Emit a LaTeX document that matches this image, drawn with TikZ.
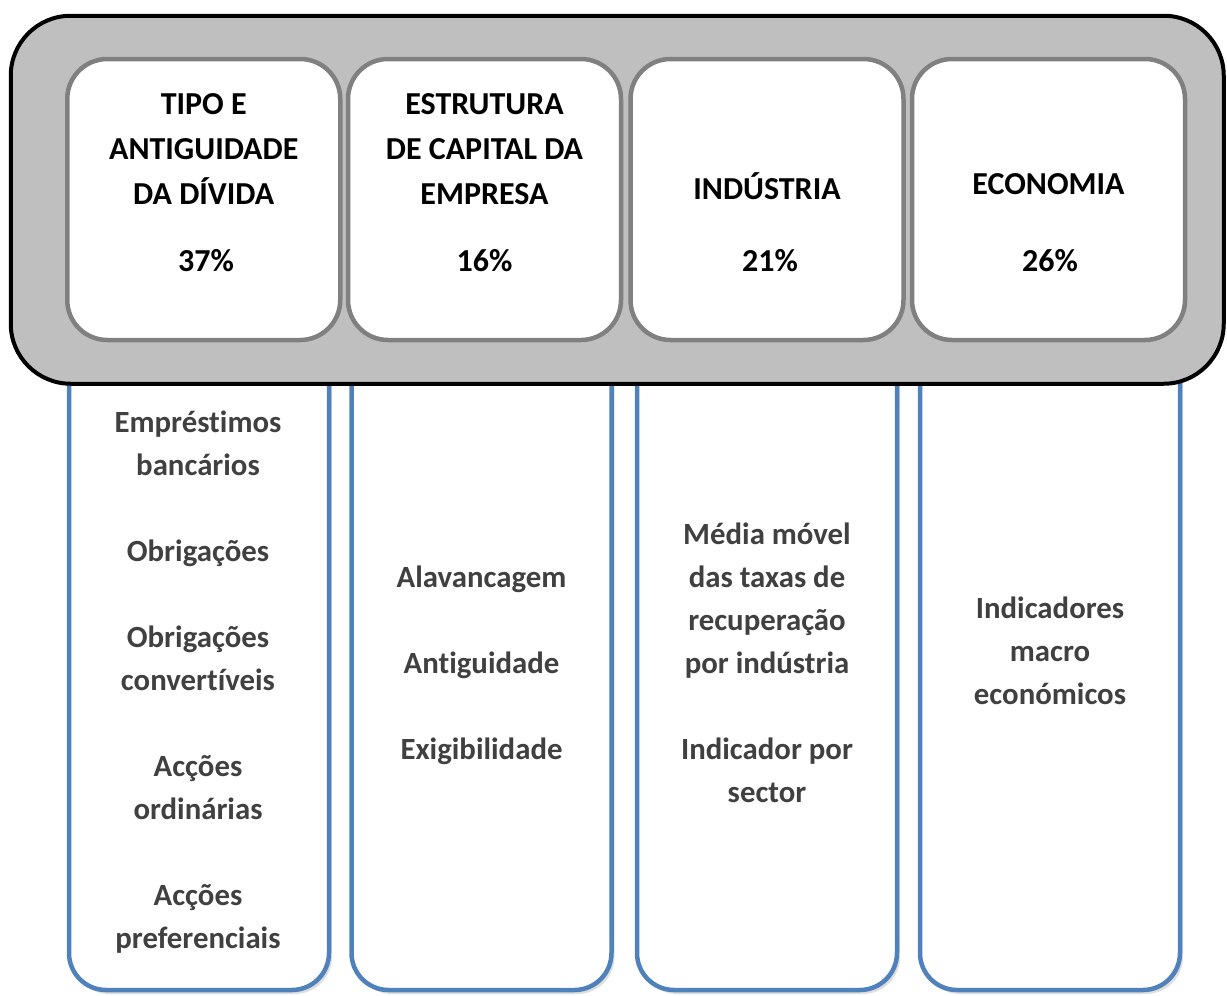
\documentclass[tikz,border=0pt]{standalone}
\usepackage{fontspec}
\setmainfont{Carlito}[Ligatures=NoCommon]
\usetikzlibrary{shadows}
\definecolor{panelgray}{HTML}{BFBFBF}
\definecolor{factorgray}{HTML}{808080}
\definecolor{itemblue}{HTML}{4F81BD}
\definecolor{itemtext}{HTML}{404040}
\tikzset{
  panel/.style={draw=black, line width=4pt, fill=panelgray, rounded corners=60pt,
    minimum width=1213pt, minimum height=368pt},
  factor/.style={draw=factorgray, line width=4.5pt, fill=white, rounded corners=40pt,
    minimum width=273pt, minimum height=281pt},
  itembox/.style={draw=itemblue, line width=4.5pt, fill=white, rounded corners=37pt,
    minimum width=260pt, minimum height=660pt,
    drop shadow={shadow xshift=3pt, shadow yshift=-4pt, opacity=.25}},
  title/.style={align=center, font=\fontsize{32}{45}\selectfont\bfseries},
  itemtxt/.style={align=center, text=itemtext, font=\fontsize{30.8}{43}\selectfont\bfseries},
}
\begin{document}
\begin{tikzpicture}[x=1pt, y=-1pt]
        \useasboundingbox (0,0) rectangle (1227,996);
        % blue boxes below
        \node[itembox] (divitens) at (199,660) {};
        \node[itembox] (capitens) at (481.5,660) {};
        \node[itembox] (inditens) at (767,660) {};
        \node[itembox] (ecoitens) at (1050,660) {};
        % grey panel with the four factors
        \node[panel] (painel) at (617.25,199.75) {};
        \node[factor] (divida) at (203.75,199.5) {};
        \node[factor] (capital) at (484.5,199.5) {};
        \node[factor] (industria) at (767,199.5) {};
        \node[factor] (economia) at (1048.5,199.5) {};
        \node[title] (divtit) at (203.75,149) {TIPO E\\ANTIGUIDADE\\DA DÍVIDA};
        \node[title] (captit) at (484.5,149) {ESTRUTURA\\DE CAPITAL DA\\EMPRESA};
        \node[title] (indtit) at (767,186) {INDÚSTRIA};
        \node[title] (ecotit) at (1048.5,184) {ECONOMIA};
        \node[title] (divpct) at (206,261) {37\%};
        \node[title] (cappct) at (484.5,261) {16\%};
        \node[title] (indpct) at (770,261) {21\%};
        \node[title] (ecopct) at (1050,261) {26\%};
        % items
        \node[itemtxt] (divtxt) at (198,682)
          {Empréstimos\\bancários\\[43pt]Obrigações\\[43pt]Obrigações\\convertíveis\\[43pt]Acções\\ordinárias\\[43pt]Acções\\preferenciais};
        \node[itemtxt] (captxt) at (481.5,665)
          {Alavancagem\\[43pt]Antiguidade\\[43pt]Exigibilidade};
        \node[itemtxt] (indtxt) at (767,663)
          {Média móvel\\das taxas de\\recuperação\\por indústria\\[43pt]Indicador por\\sector};
        \node[itemtxt] (ecotxt) at (1050,651)
          {Indicadores\\macro\\económicos};
      \end{tikzpicture}
\end{document}
